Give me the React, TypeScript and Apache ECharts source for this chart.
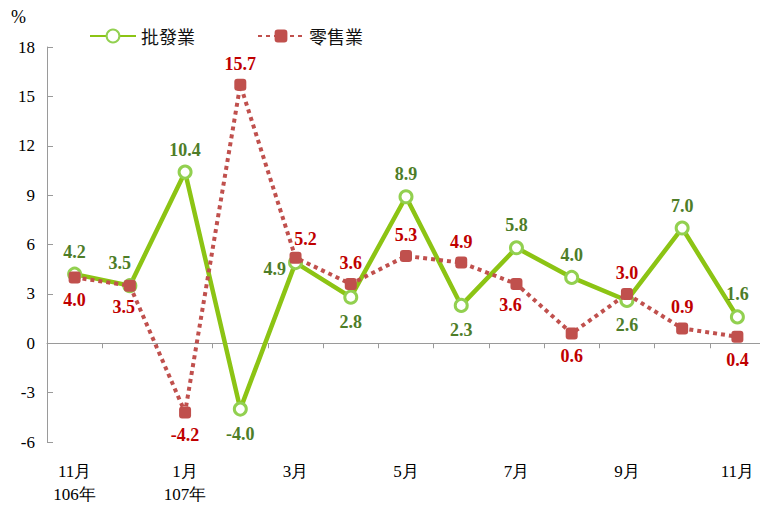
import React, { useEffect, useRef } from "react";
import * as echarts from "echarts";

const categories = ["11月\n106年", "12月", "1月\n107年", "2月", "3月", "4月", "5月", "6月", "7月", "8月", "9月", "10月", "11月"];
const wholesale = [4.2, 3.5, 10.4, -4.0, 4.9, 2.8, 8.9, 2.3, 5.8, 4.0, 2.6, 7.0, 1.6];
const retail = [4.0, 3.5, -4.2, 15.7, 5.2, 3.6, 5.3, 4.9, 3.6, 0.6, 3.0, 0.9, 0.4];
const wholesalePos = ["top", "tl", "top", "bottom", "left", "bottom", "top", "bottom", "top", "top", "bottom", "top", "top"];
const retailPos = ["bottom", "bl", "bottom", "top", "tr", "top", "top", "top", "bl", "bottom", "top", "top", "bottom"];

const serif = "Liberation Serif";

function labelFor(pos: string, color: string) {
  const base: any = {
    show: true,
    color,
    fontFamily: serif,
    fontWeight: "bold",
    fontSize: 18,
    formatter: (p: any) => Number(p.value).toFixed(1),
  };
  if (pos === "top") return { ...base, position: "top", distance: 6 };
  if (pos === "bottom") return { ...base, position: "bottom", distance: 8 };
  if (pos === "left") return { ...base, position: "left", distance: 2, offset: [0, 6] };
  if (pos === "tl") return { ...base, position: "top", distance: 6, offset: [-10, 0] };
  if (pos === "bl") return { ...base, position: "bottom", distance: 6, offset: [-6, 0] };
  if (pos === "tr") return { ...base, position: "top", distance: 4, offset: [10, 0] };
  return base;
}

export default function App() {
  const ref = useRef<HTMLDivElement>(null);
  useEffect(() => {
    const chart = echarts.init(ref.current!, null, { renderer: "svg" });
    chart.setOption({
      animation: false,
      backgroundColor: "#fff",
      legend: {
        left: 84,
        top: 22,
        itemWidth: 46,
        itemHeight: 16,
        itemGap: 62,
        textStyle: { fontFamily: "Noto Sans CJK TC", fontSize: 18, color: "#111" },
        data: ["批發業", "零售業"],
      },
      graphic: [
        { type: "text", left: 11, top: 8, style: { text: "%", fontFamily: serif, fontSize: 18, fill: "#000" } },
      ],
      grid: { left: 47, right: 0, top: 47, bottom: 65, containLabel: false },
      xAxis: [
        {
          type: "category",
          data: categories,
          boundaryGap: true,
          axisLine: { onZero: true, lineStyle: { color: "#9a9a9a", width: 1 } },
          axisTick: { show: true, length: 5, lineStyle: { color: "#9a9a9a" } },
          axisLabel: { show: false },
        },
        {
          type: "category",
          data: categories,
          position: "bottom",
          boundaryGap: true,
          axisLine: { show: false, onZero: false },
          axisTick: { show: false },
          axisLabel: {
            interval: 1,
            color: "#000",
            fontFamily: serif,
            fontSize: 17,
            lineHeight: 23,
            margin: 18,
            verticalAlign: "top",
          },
        },
      ],
      yAxis: {
        type: "value",
        min: -6,
        max: 18,
        interval: 3,
        axisLine: { show: true, lineStyle: { color: "#9a9a9a" } },
        axisTick: { show: true, inside: true, length: 6, lineStyle: { color: "#9a9a9a" } },
        splitLine: { show: false },
        axisLabel: { color: "#000", fontFamily: serif, fontSize: 17, margin: 12 },
      },
      series: [
        {
          name: "批發業",
          type: "line",
          xAxisIndex: 0,
          data: wholesale.map((v, i) => ({ value: v, label: labelFor(wholesalePos[i], "#4e7d28") })),
          symbol: "circle",
          symbolSize: 12,
          showAllSymbol: true,
          lineStyle: { color: "#8cc414", width: 4.5 },
          itemStyle: { color: "#fff", borderColor: "#92d050", borderWidth: 3 },
          z: 2,
        },
        {
          name: "零售業",
          type: "line",
          xAxisIndex: 0,
          data: retail.map((v, i) => ({ value: v, label: labelFor(retailPos[i], "#c00000") })),
          symbol: "roundRect",
          symbolSize: 12,
          showAllSymbol: true,
          lineStyle: { color: "#c0504d", width: 4, type: [4, 4] },
          itemStyle: { color: "#c0504d", borderWidth: 0 },
          z: 3,
        },
      ],
    });
    return () => chart.dispose();
  }, []);
  return (
    <div style={{ position: "absolute", left: 0, top: 0, width: 760, height: 507, overflow: "hidden" }}>
      <div ref={ref} style={{ width: 765, height: 507 }} />
    </div>
  );
}
